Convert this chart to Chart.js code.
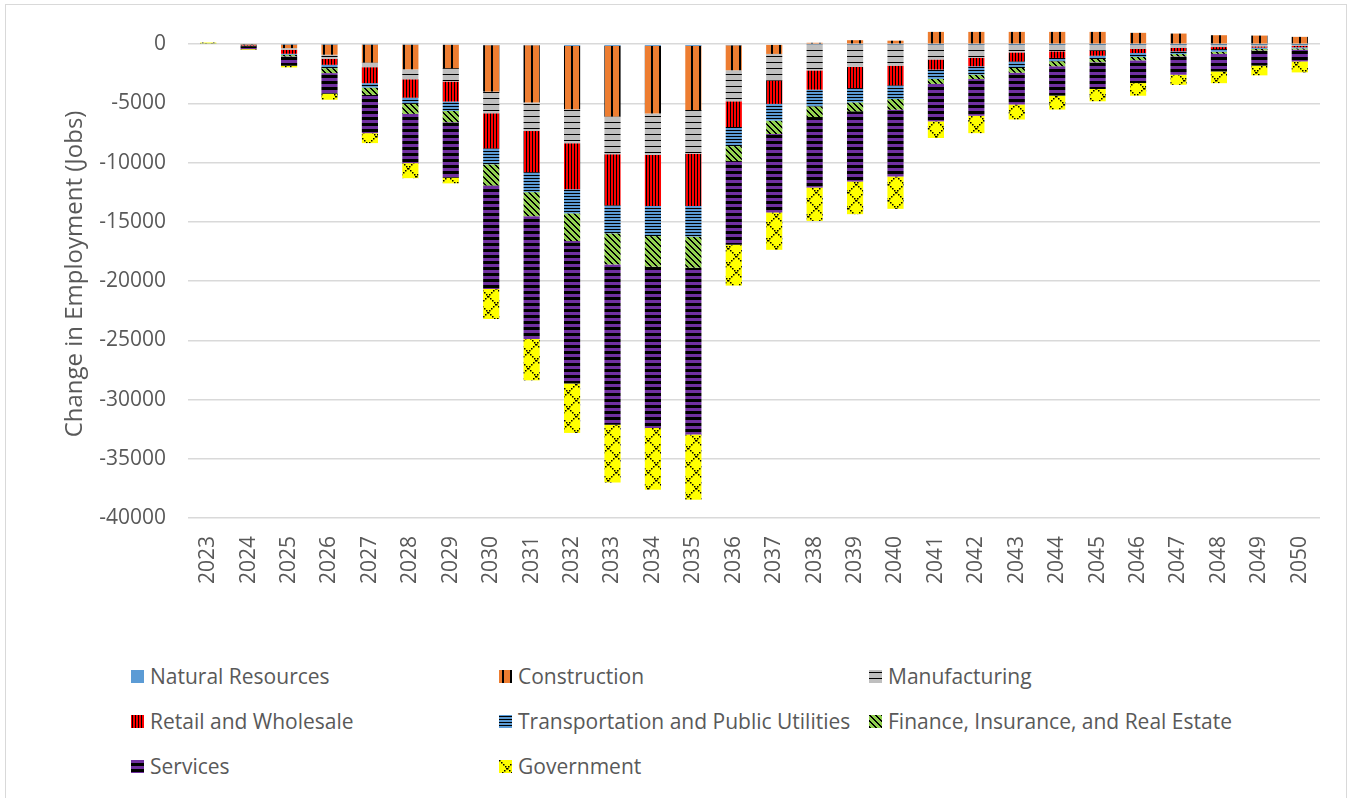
<!DOCTYPE html>
<html>
<head>
<meta charset="utf-8">
<title>Change in Employment (Jobs)</title>
<script src="https://cdn.jsdelivr.net/npm/chart.js@4.4.1/dist/chart.umd.min.js"></script>
<style>
  html, body { margin: 0; padding: 0; background: #fff; }
  body { width: 1350px; height: 798px; overflow: hidden; position: relative; font-family: 'Open Sans', sans-serif; }
  .frame { position: absolute; left: 5px; top: 4px; width: 1342px; height: 830px; border: 1px solid #d9d9d9; box-sizing: border-box; }
  #chart { position: absolute; left: 0; top: 0; }
  .legend-item { position: absolute; height: 28px; display: flex; align-items: center; font-size: 21px; line-height: 28px; color: #595959; white-space: nowrap; }
  .legend-item canvas { width: 13px; height: 13px; margin-right: 6px; }
</style>
</head>
<body>
<div class="frame"></div>
<canvas id="chart" width="1350" height="620"></canvas>
<div id="legend"></div>
<script>
const years = ['2023', '2024', '2025', '2026', '2027', '2028', '2029', '2030', '2031', '2032',
  '2033', '2034', '2035', '2036', '2037', '2038', '2039', '2040', '2041', '2042',
  '2043', '2044', '2045', '2046', '2047', '2048', '2049', '2050'];

const naturalResources = [0, 0, -20, -20, -30, -40, -50, -80, -80, -140,
  -140, -140, -140, -90, -60, -40, -30, -30, -20, -20,
  -10, -10, -10, -10, -10, -10, -10, -10];
const construction = [0, -40, -310, -870, -1520, -2080, -1970, -3920, -4850, -5350,
  -5970, -5720, -5410, -2110, -760, 120, 340, 300, 1040, 1040,
  1040, 1040, 1040, 960, 900, 760, 730, 620];
const manufacturing = [30, -30, -140, -340, -390, -840, -1130, -1830, -2400, -2870,
  -3180, -3490, -3690, -2620, -2250, -2170, -1890, -1780, -1270, -1130,
  -680, -590, -540, -390, -310, -230, -170, -140];
const retailWholesale = [0, -50, -340, -510, -1350, -1550, -1690, -2960, -3470, -3890,
  -4310, -4310, -4420, -2170, -1970, -1630, -1780, -1660, -850, -710,
  -760, -560, -420, -340, -280, -170, -110, -110];
const transportation = [0, -20, -80, -280, -370, -530, -790, -1350, -1690, -2030,
  -2370, -2540, -2590, -1610, -1410, -1410, -1210, -1160, -790, -710,
  -560, -280, -280, -340, -230, -230, -110, -90];
const finance = [30, -20, -140, -420, -620, -840, -960, -1780, -2030, -2340,
  -2620, -2590, -2620, -1270, -1130, -900, -760, -900, -420, -370,
  -400, -420, -280, -280, -200, -170, -140, -110];
const services = [0, -260, -790, -1740, -3230, -4160, -4680, -8740, -10370, -12030,
  -13530, -13610, -14090, -7070, -6620, -5950, -5920, -5640, -3160, -3100,
  -2680, -2480, -2250, -1920, -1550, -1490, -1270, -990];
const government = [80, -70, -140, -510, -840, -1270, -480, -2540, -3490, -4170,
  -4880, -5210, -5500, -3440, -3160, -2820, -2760, -2730, -1410, -1470,
  -1270, -1180, -1040, -1070, -850, -990, -820, -930];

const yTicks = [0, -5000, -10000, -15000, -20000, -25000, -30000, -35000, -40000];

const textColor = '#595959';
const gridColor = '#D9D9D9';
const font = { family: "'Open Sans', sans-serif", size: 21 };

function makeTile(w, h, bg, draw) {
  const c = document.createElement('canvas');
  c.width = w;
  c.height = h;
  const g = c.getContext('2d');
  g.fillStyle = bg;
  g.fillRect(0, 0, w, h);
  g.fillStyle = '#000';
  if (draw) draw(g, w, h);
  return c;
}

// excel-like fill patterns
const tiles = {
  naturalResources: makeTile(4, 4, '#5B9BD5'),
  construction: makeTile(8, 8, '#ED7D31', g => g.fillRect(3, 0, 2, 8)),
  manufacturing: makeTile(6, 6, '#BFBFBF', g => g.fillRect(0, 2, 6, 1)),
  retail: makeTile(3, 3, '#FF0000', g => g.fillRect(1, 0, 1, 3)),
  transport: makeTile(3, 3, '#5B9BD5', g => g.fillRect(0, 1, 3, 1)),
  finance: makeTile(6, 6, '#92D050', g => {
    for (let i = 0; i < 6; i++) {
      g.fillRect(i, i, 1, 1);
      g.fillRect((i + 1) % 6, i, 1, 1);
    }
  }),
  services: makeTile(6, 6, '#7030A0', g => g.fillRect(0, 3, 6, 3)),
  government: makeTile(16, 16, '#FFFF00', g => {
    for (let i = 0; i < 16; i += 2) {
      g.fillRect(i, i, 1.5, 1.5);
      g.fillRect(15 - i, i, 1.5, 1.5);
    }
  })
};

const ctx = document.getElementById('chart').getContext('2d');
const pat = (t) => ctx.createPattern(t, 'repeat');

const series = [
  { label: 'Natural Resources', data: naturalResources, tile: tiles.naturalResources },
  { label: 'Construction', data: construction, tile: tiles.construction },
  { label: 'Manufacturing', data: manufacturing, tile: tiles.manufacturing },
  { label: 'Retail and Wholesale', data: retailWholesale, tile: tiles.retail },
  { label: 'Transportation and Public Utilities', data: transportation, tile: tiles.transport },
  { label: 'Finance, Insurance, and Real Estate', data: finance, tile: tiles.finance },
  { label: 'Services', data: services, tile: tiles.services },
  { label: 'Government', data: government, tile: tiles.government }
];

new Chart(ctx, {
  type: 'bar',
  data: {
    labels: years,
    datasets: series.map(s => ({
      label: s.label,
      data: s.data,
      backgroundColor: pat(s.tile),
      borderWidth: 0,
      barPercentage: 0.4,
      categoryPercentage: 1
    }))
  },
  options: {
    responsive: false,
    animation: false,
    layout: { padding: { top: 30, right: 30, bottom: 26, left: 0 } },
    plugins: { legend: { display: false }, tooltip: { enabled: false } },
    scales: {
      x: {
        stacked: true,
        grid: { display: false },
        border: { display: false },
        ticks: { color: textColor, font, minRotation: 90, maxRotation: 90, padding: 10, autoSkip: false }
      },
      y: {
        stacked: true,
        min: -40000,
        max: 1200,
        afterBuildTicks: (scale) => {
          scale.ticks = yTicks.map(v => ({ value: v }));
        },
        afterFit: (scale) => {
          scale.width = 188;
          scale.paddingTop = 0;
          scale.paddingBottom = 0;
        },
        grid: { color: gridColor, lineWidth: 1.5, drawTicks: false },
        border: { display: false },
        ticks: { color: textColor, font, padding: 22, callback: v => String(v) },
        title: {
          display: true,
          text: 'Change in Employment (Jobs)',
          color: textColor,
          font: { family: font.family, size: 24 },
          padding: { top: 61, bottom: 0 }
        }
      }
    }
  }
});

// legend in three columns like the source
const legendCols = [131, 499, 869];
const legendRows = [676, 721, 766];
const legendEl = document.getElementById('legend');
series.forEach((s, i) => {
  const item = document.createElement('div');
  item.className = 'legend-item';
  item.style.left = legendCols[i % 3] + 'px';
  item.style.top = (legendRows[Math.floor(i / 3)] - 14) + 'px';
  const sw = document.createElement('canvas');
  sw.width = 13;
  sw.height = 13;
  const g = sw.getContext('2d');
  g.fillStyle = g.createPattern(s.tile, 'repeat');
  g.fillRect(0, 0, 13, 13);
  item.appendChild(sw);
  item.appendChild(document.createTextNode(s.label));
  legendEl.appendChild(item);
});
</script>
</body>
</html>
